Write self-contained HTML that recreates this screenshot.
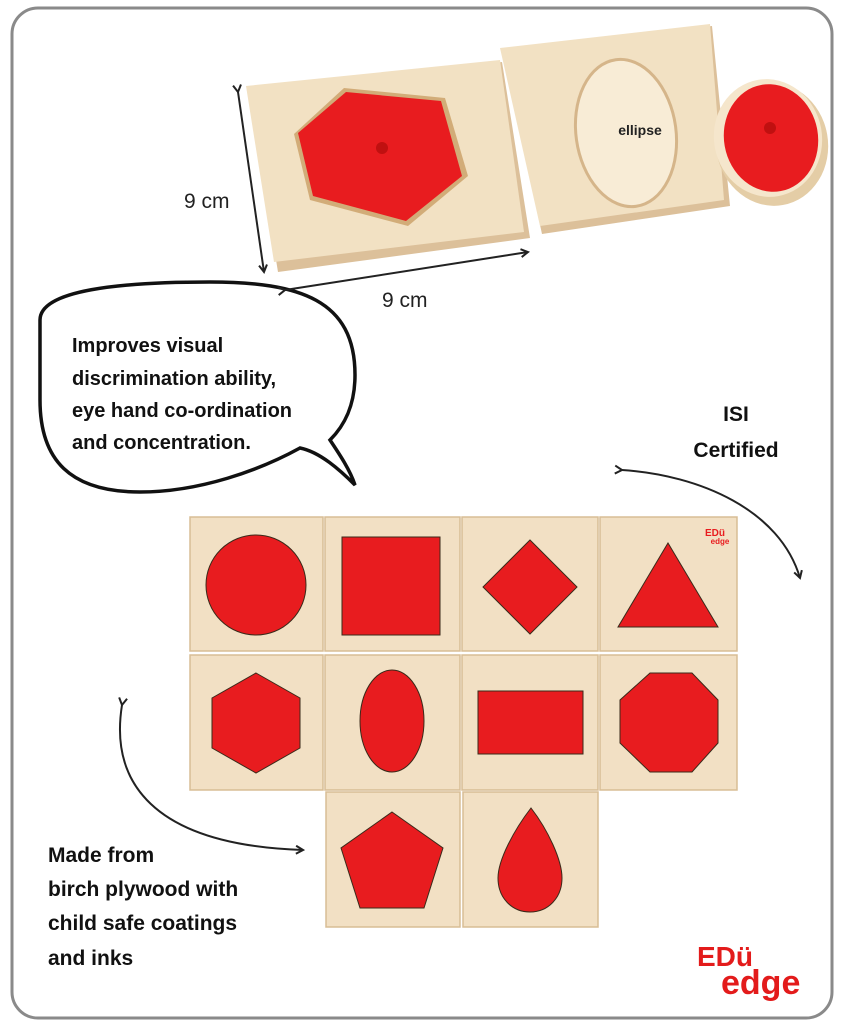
<!DOCTYPE html>
<html><head><meta charset="utf-8"><style>
html,body{margin:0;padding:0;background:#fff}
svg{display:block}
text{font-family:"Liberation Sans",sans-serif}
</style></head><body>
<svg width="845" height="1024" viewBox="0 0 845 1024" xmlns="http://www.w3.org/2000/svg">
<defs>
<marker id="ah" markerWidth="10" markerHeight="10" refX="8" refY="5" orient="auto" markerUnits="userSpaceOnUse"><path d="M1,1 L8,5 L1,9" fill="none" stroke="#222" stroke-width="2"/></marker>
</defs>
<rect x="12" y="8" width="820" height="1010" rx="26" fill="#fff" stroke="#8a8a8a" stroke-width="3"/>
<!-- top boards -->
<polygon points="248,88 502,62 530,238 278,272" fill="#dcc09a"/>
<polygon points="246,86 500,60 524,232 274,262" fill="#f2e1c3"/>
<polygon points="294,134 344,88 445,98 468,176 408,226 310,200" fill="#d2ac78"/>
<polygon points="298,133 346,92 441,101 462,176 406,221 313,196" fill="#e81c1f"/>
<circle cx="382" cy="148" r="6" fill="#c01010"/>
<polygon points="502,50 712,26 730,206 542,234" fill="#dcc09a"/>
<polygon points="500,48 710,24 724,200 540,226" fill="#f2e1c3"/>
<ellipse cx="626" cy="133" rx="50" ry="74" transform="rotate(-8 626 133)" fill="#f8ecd6" stroke="#d5b58a" stroke-width="3"/>
<text x="640" y="135" font-size="14" font-weight="bold" text-anchor="middle" fill="#222">ellipse</text>
<ellipse cx="772" cy="144" rx="56" ry="62" transform="rotate(-10 772 144)" fill="#e4cda6"/>
<ellipse cx="768" cy="138" rx="54" ry="59" transform="rotate(-10 768 138)" fill="#f5e6cc"/>
<ellipse cx="771" cy="138" rx="47" ry="54" transform="rotate(-10 771 138)" fill="#e81c1f"/>
<circle cx="770" cy="128" r="6" fill="#c01010"/>
<!-- speech bubble -->
<path d="M40,320 C40,290 120,282 210,282 C300,282 355,300 355,375 C355,405 345,425 330,440 C340,455 350,470 355,485 C340,470 320,452 300,448 C260,470 200,492 140,492 C70,492 40,460 40,400 Z" fill="#fff" stroke="#111" stroke-width="3.5"/>
<line x1="238" y1="92" x2="264" y2="272" stroke="#222" stroke-width="2" marker-start="url(#ah)" marker-end="url(#ah)"/>
<line x1="285" y1="290" x2="528" y2="252" stroke="#222" stroke-width="2" marker-start="url(#ah)" marker-end="url(#ah)"/>
<text x="184" y="208" font-size="21" fill="#222">9 cm</text>
<text x="382" y="307" font-size="21" fill="#222">9 cm</text>
<text font-size="20" font-weight="bold" fill="#111"><tspan x="72" y="352">Improves visual</tspan><tspan x="72" y="385">discrimination ability,</tspan><tspan x="72" y="417">eye hand co-ordination</tspan><tspan x="72" y="449">and concentration.</tspan></text>
<text font-size="21" font-weight="bold" fill="#111" text-anchor="middle"><tspan x="736" y="421">ISI</tspan><tspan x="736" y="457">Certified</tspan></text>
<path d="M622,470 C700,475 780,510 800,578" fill="none" stroke="#222" stroke-width="2" marker-start="url(#ah)" marker-end="url(#ah)"/>
<path d="M122,705 C110,780 150,845 303,850" fill="none" stroke="#222" stroke-width="2" marker-start="url(#ah)" marker-end="url(#ah)"/>
<text font-size="21" font-weight="bold" fill="#111"><tspan x="48" y="862">Made from</tspan><tspan x="48" y="896">birch plywood with</tspan><tspan x="48" y="930">child safe coatings</tspan><tspan x="48" y="965">and inks</tspan></text>
<!-- tiles -->
<g fill="#f2e0c4" stroke="#d8bd95" stroke-width="1.5">
<rect x="190" y="517" width="133" height="134"/><rect x="325" y="517" width="135" height="134"/><rect x="462" y="517" width="136" height="134"/><rect x="600" y="517" width="137" height="134"/>
<rect x="190" y="655" width="133" height="135"/><rect x="325" y="655" width="135" height="135"/><rect x="462" y="655" width="136" height="135"/><rect x="600" y="655" width="137" height="135"/>
<rect x="326" y="792" width="134" height="135"/><rect x="463" y="792" width="135" height="135"/>
</g>
<g fill="#e81c1f" stroke="#3a2a1a" stroke-width="1">
<circle cx="256" cy="585" r="50"/>
<rect x="342" y="537" width="98" height="98"/>
<polygon points="530,540 577,587 530,634 483,587"/>
<polygon points="668,543 718,627 618,627"/>
<polygon points="256,673 300,698 300,748 256,773 212,748 212,698"/>
<ellipse cx="392" cy="721" rx="32" ry="51"/>
<rect x="478" y="691" width="105" height="63"/>
<polygon points="650,673 692,673 718,700 718,743 692,772 650,772 620,743 620,700"/>
<polygon points="392,812 443,848 424,908 360,908 341,848"/>
<path d="M531,808 C548,830 562,860 562,878 C562,898 548,912 530,912 C512,912 498,898 498,878 C498,860 514,830 531,808 Z"/>
</g>
<text x="715" y="536" font-size="10" font-weight="bold" fill="#e81c1f" text-anchor="middle">EDü</text>
<text x="720" y="544" font-size="8" font-weight="bold" fill="#e81c1f" text-anchor="middle">edge</text>
<text x="697" y="966" font-size="28" font-weight="bold" fill="#e31b1b">EDü</text>
<text x="721" y="994" font-size="34" font-weight="bold" fill="#e31b1b">edge</text>
</svg>
</body></html>
